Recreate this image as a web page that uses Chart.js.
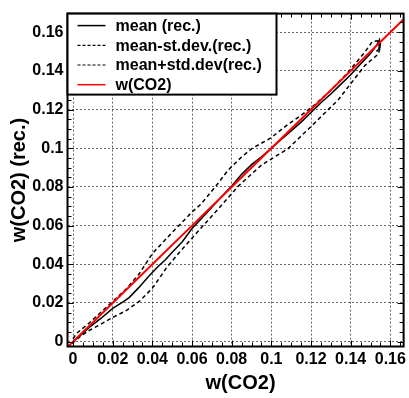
<!DOCTYPE html>
<html>
<head>
<meta charset="utf-8">
<script src="https://cdn.jsdelivr.net/npm/chart.js@4.4.0/dist/chart.umd.min.js"></script>
<style>
  html, body { margin: 0; padding: 0; background: #fff; }
  #wrap { width: 409px; height: 398px; }
</style>
</head>
<body>
<div id="wrap"><canvas id="chart" width="409" height="398"></canvas></div>
<script>
// tick labels
const xTickLabels = ['0', '0.02', '0.04', '0.06', '0.08', '0.1', '0.12', '0.14', '0.16'];
const yTickLabels = ['0', '0.02', '0.04', '0.06', '0.08', '0.1', '0.12', '0.14', '0.16'];

// mean (rec.)
const meanX = [0, 0.004, 0.0083, 0.014, 0.02, 0.025, 0.0283, 0.033, 0.0383, 0.043, 0.0467, 0.05, 0.055, 0.06, 0.065, 0.07, 0.075, 0.08, 0.085, 0.09, 0.095, 0.1, 0.105, 0.11, 0.115, 0.12, 0.125, 0.13, 0.135, 0.14, 0.145, 0.15, 0.153, 0.1545, 0.1548, 0.153];
const meanY = [0, 0.0035, 0.0075, 0.012, 0.0172, 0.0205, 0.0228, 0.0278, 0.034, 0.039, 0.0425, 0.0462, 0.0515, 0.0585, 0.064, 0.0695, 0.075, 0.0805, 0.0865, 0.0915, 0.0955, 0.1, 0.1045, 0.109, 0.1135, 0.1185, 0.1235, 0.128, 0.133, 0.138, 0.1435, 0.149, 0.153, 0.156, 0.152, 0.150];

// mean-st.dev.(rec.)
const lowX = [-0.0005, 0.004, 0.0083, 0.014, 0.02, 0.027, 0.0335, 0.04, 0.047, 0.0543, 0.06, 0.0665, 0.0733, 0.0833, 0.095, 0.1083, 0.1203, 0.1337, 0.147, 0.1537, 0.1548, 0.155];
const lowY = [-0.001, 0.003, 0.0059, 0.009, 0.0125, 0.0162, 0.0209, 0.0276, 0.038, 0.047, 0.0535, 0.061, 0.0687, 0.0804, 0.0913, 0.0997, 0.1115, 0.125, 0.1426, 0.1485, 0.1515, 0.1545];

// mean+std.dev(rec.)
const highX = [0, 0.0017, 0.0083, 0.014, 0.02, 0.027, 0.0333, 0.04, 0.05, 0.06, 0.0645, 0.072, 0.0783, 0.085, 0.09, 0.1, 0.1083, 0.115, 0.122, 0.13, 0.1387, 0.147, 0.151, 0.1535, 0.1545, 0.1535];
const highY = [0.0015, 0.0042, 0.0098, 0.0152, 0.0208, 0.0275, 0.035, 0.0455, 0.0565, 0.067, 0.0711, 0.0804, 0.0888, 0.0955, 0.0997, 0.1055, 0.1123, 0.117, 0.1225, 0.130, 0.1393, 0.1495, 0.1552, 0.1555, 0.1525, 0.150];

// w(CO2)
const refX = [-0.003, 0.02, 0.04, 0.06, 0.08, 0.1, 0.12, 0.14, 0.16, 0.17];
const refY = [-0.003, 0.02, 0.04, 0.06, 0.08, 0.1, 0.12, 0.14, 0.16, 0.17];

const FONT = 'Arial, "Liberation Sans", sans-serif';

function pts(xs, ys) {
    return xs.map((x, i) => ({ x: x, y: ys[i] }));
}

function labelFor(list, value) {
    const idx = Math.round(value / 0.02);
    return list[idx] !== undefined ? list[idx] : '';
}

// box around plot, inward ticks on all sides, legend, x title
const framePlugin = {
    id: 'frame',
    afterDraw(chart) {
        const ctx = chart.ctx;
        const a = chart.chartArea;
        const xs = chart.scales.x;
        const ys = chart.scales.y;
        ctx.save();
        ctx.strokeStyle = '#000';
        ctx.lineWidth = 1;
        ctx.beginPath();
        for (let v = 0; v <= xs.max + 1e-9; v += 0.005) {
            const p = Math.round(xs.getPixelForValue(v)) + 0.5;
            const major = Math.abs(v / 0.02 - Math.round(v / 0.02)) < 1e-6;
            const len = major ? 6 : 4;
            ctx.moveTo(p, a.bottom); ctx.lineTo(p, a.bottom - len);
            ctx.moveTo(p, a.top); ctx.lineTo(p, a.top + len);
        }
        for (let v = 0; v <= ys.max + 1e-9; v += 0.005) {
            const p = Math.round(ys.getPixelForValue(v)) + 0.5;
            const major = Math.abs(v / 0.02 - Math.round(v / 0.02)) < 1e-6;
            const len = major ? 6 : 4;
            ctx.moveTo(a.left, p); ctx.lineTo(a.left + len, p);
            ctx.moveTo(a.right, p); ctx.lineTo(a.right - len, p);
        }
        ctx.stroke();
        ctx.lineWidth = 2;
        ctx.strokeRect(a.left, a.top, a.right - a.left, a.bottom - a.top);

        // legend
        const lx = a.left, ly = a.top, lw = 209, lh = 81;
        ctx.fillStyle = '#fff';
        ctx.fillRect(lx, ly, lw, lh);
        ctx.lineWidth = 2;
        ctx.strokeRect(lx, ly, lw, lh);
        ctx.font = 'bold 16px ' + FONT;
        ctx.textBaseline = 'middle';
        ctx.textAlign = 'left';
        [0, 1, 2, 3].forEach(i => {
            const ds = chart.data.datasets[i];
            const y = ly + 12 + i * 19.7;
            ctx.beginPath();
            ctx.setLineDash(ds.borderDash ? [3, 2] : []);
            ctx.strokeStyle = ds.borderColor;
            ctx.lineWidth = ds.borderDash ? 1.2 : 1.5;
            ctx.moveTo(lx + 10, y);
            ctx.lineTo(lx + 38, y);
            ctx.stroke();
            ctx.setLineDash([]);
            ctx.fillStyle = '#000';
            ctx.fillText(ds.label, lx + 48, y + 1);
        });

        // x axis title, slightly right of centre as in the original
        ctx.font = 'bold 20px ' + FONT;
        ctx.textAlign = 'center';
        ctx.textBaseline = 'middle';
        ctx.fillText('w(CO2)', (a.left + a.right) / 2 + 5, 383);
        ctx.restore();
    }
};

const ctx = document.getElementById('chart').getContext('2d');
new Chart(ctx, {
    type: 'scatter',
    data: {
        datasets: [
            { label: 'mean (rec.)', data: pts(meanX, meanY), borderColor: '#000', borderWidth: 1.5, order: 1 },
            { label: 'mean-st.dev.(rec.)', data: pts(lowX, lowY), borderColor: '#000', borderWidth: 1.5, borderDash: [4, 3], order: 1 },
            { label: 'mean+std.dev(rec.)', data: pts(highX, highY), borderColor: '#000', borderWidth: 1.5, borderDash: [4, 3], order: 1 },
            { label: 'w(CO2)', data: pts(refX, refY), borderColor: '#ff0000', borderWidth: 2, order: 0 }
        ]
    },
    options: {
        responsive: false,
        animation: false,
        showLine: true,
        elements: { point: { radius: 0 }, line: { tension: 0 } },
        layout: { padding: { top: 5, right: 2.5, left: 0, bottom: 0 } },
        plugins: {
            legend: { display: false },
            tooltip: { enabled: false }
        },
        scales: {
            x: {
                type: 'linear',
                min: -0.0028,
                max: 0.1667,
                afterFit(scale) { scale.height = 51.5; },
                grid: { color: 'rgba(0,0,0,0.6)', lineWidth: 1, drawTicks: false },
                border: { display: false, dash: [2, 2] },
                ticks: {
                    stepSize: 0.02,
                    includeBounds: false,
                    padding: 3,
                    color: '#000',
                    font: { family: FONT, size: 16, weight: 'bold' },
                    maxRotation: 0,
                    autoSkip: false,
                    callback: v => labelFor(xTickLabels, v)
                },
                title: { display: false }
            },
            y: {
                type: 'linear',
                min: -0.0025,
                max: 0.1696,
                afterFit(scale) { scale.width = 67.5; },
                grid: { color: 'rgba(0,0,0,0.6)', lineWidth: 1, drawTicks: false },
                border: { display: false, dash: [2, 2] },
                ticks: {
                    stepSize: 0.02,
                    includeBounds: false,
                    padding: 4,
                    color: '#000',
                    font: { family: FONT, size: 16, weight: 'bold' },
                    autoSkip: false,
                    callback: v => labelFor(yTickLabels, v)
                },
                title: {
                    display: true,
                    text: 'w(CO2) (rec.)',
                    color: '#000',
                    font: { family: FONT, size: 20, weight: 'bold' },
                    padding: { top: 7, bottom: 0 }
                }
            }
        }
    },
    plugins: [framePlugin]
});
</script>
</body>
</html>
